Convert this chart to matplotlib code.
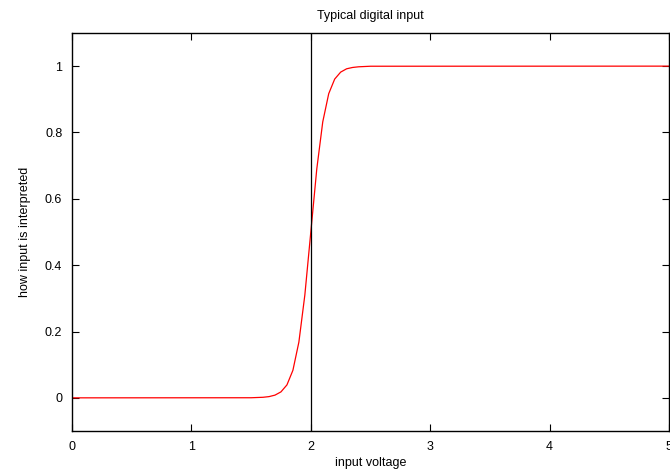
import numpy as np
import matplotlib.pyplot as plt

plt.rcParams['font.family'] = ['Liberation Sans', 'DejaVu Sans']

# curve values
volts = [0.0, 1.5, 1.6, 1.65, 1.7, 1.75, 1.8, 1.85, 1.9, 1.95, 2.0,
         2.05, 2.1, 2.15, 2.2, 2.25, 2.3, 2.35, 2.4, 2.5, 5.0]
level = [0.0, 0.0003, 0.0017, 0.0037, 0.0082, 0.018, 0.039, 0.083, 0.168, 0.31, 0.5,
         0.69, 0.832, 0.917, 0.961, 0.982, 0.992, 0.996, 0.998, 0.9997, 1.0]
threshold = 2.0
xticks = [0, 1, 2, 3, 4, 5]
yticks = [0, 0.2, 0.4, 0.6, 0.8, 1]

fig = plt.figure(figsize=(6.7, 4.75), dpi=100)
ax = fig.add_axes([0.1075, 0.0926, 0.891, 0.838])

ax.plot(volts, level, color='red', lw=0.9)
ax.axvline(threshold, color='black', lw=0.9)

ax.set_xlim(0, 5)
ax.set_ylim(-0.1, 1.1)
ax.set_xticks(xticks)
ax.set_yticks(yticks)
ax.set_yticklabels(['0', '0.2', '0.4', '0.6', '0.8', '1'])
ax.tick_params(direction='in', top=True, right=True, length=5, labelsize=9, pad=7)
for s in ax.spines.values():
    s.set_linewidth(1.0)

ax.set_title('Typical digital input', fontsize=9, pad=10)
ax.set_xlabel('input voltage', fontsize=9, labelpad=3)
ax.set_ylabel('how input is interpreted', fontsize=9, labelpad=10)

fig.savefig('out.png', dpi=100)
